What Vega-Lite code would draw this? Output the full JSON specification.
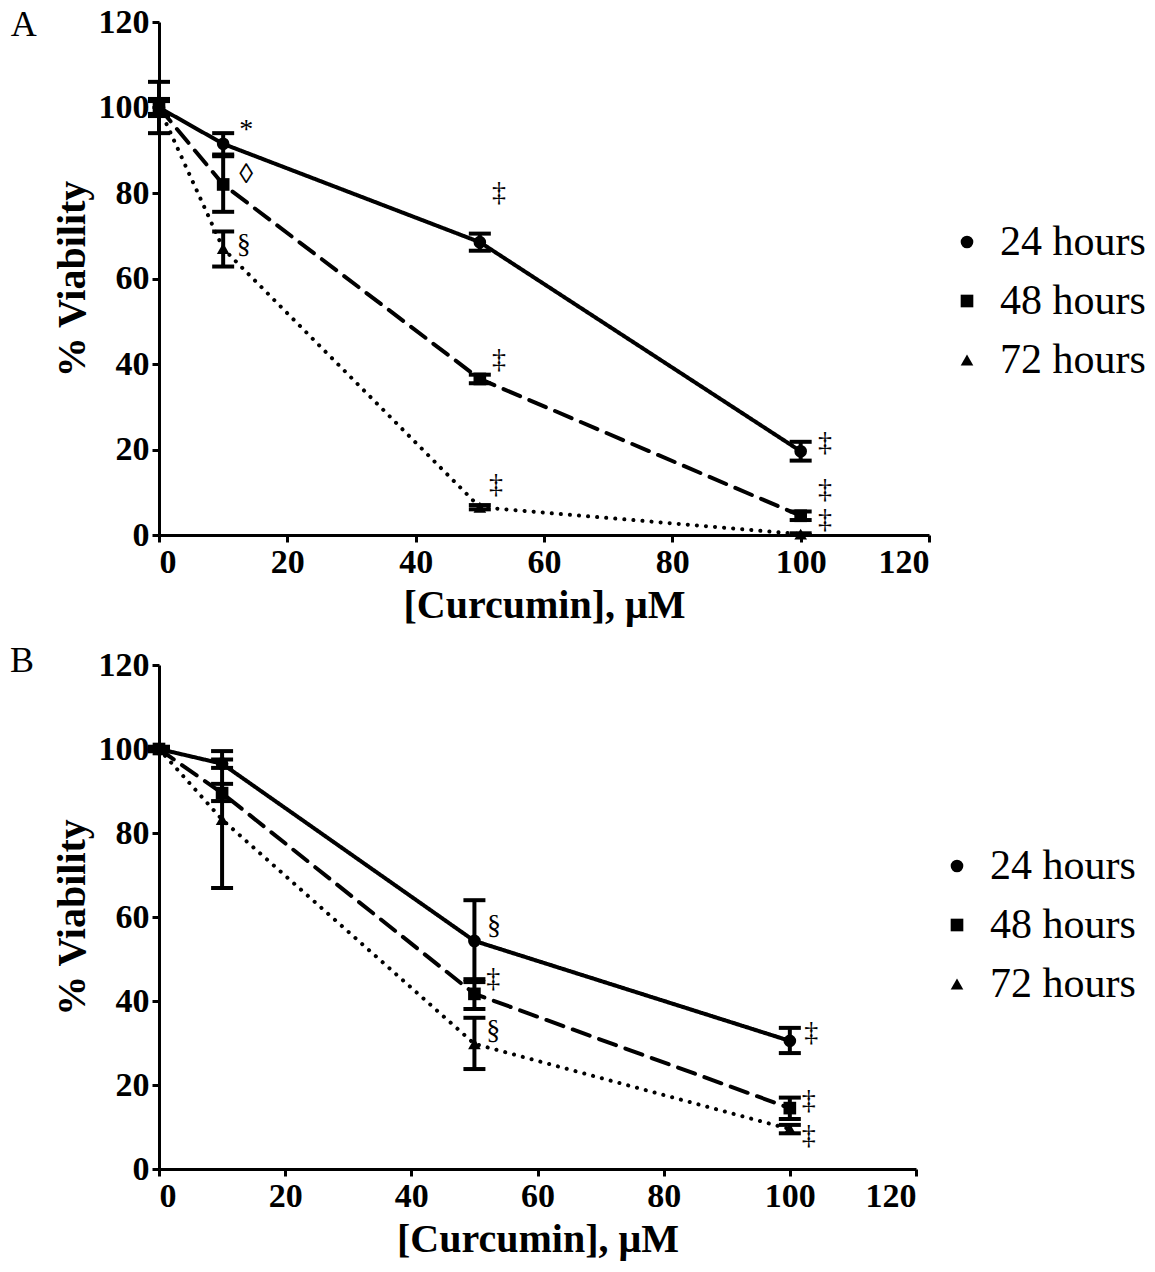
{
  "$schema": "https://vega.github.io/schema/vega-lite/v6.json",
  "background": "white",
  "padding": {"left": 10, "top": 5, "right": 5, "bottom": 2},
  "spacing": 17,
  "datasets": {
    "pts": [
      {"panel": "A", "series": "24 hours", "x": 0, "v": 100, "lo": 94, "hi": 106},
      {"panel": "A", "series": "24 hours", "x": 10, "v": 91.5, "lo": 89, "hi": 94},
      {"panel": "A", "series": "24 hours", "x": 50, "v": 68.5, "lo": 66.5, "hi": 70.5},
      {"panel": "A", "series": "24 hours", "x": 100, "v": 19.6, "lo": 17.4, "hi": 21.8},
      {"panel": "A", "series": "48 hours", "x": 0, "v": 100, "lo": 98, "hi": 102},
      {"panel": "A", "series": "48 hours", "x": 10, "v": 82, "lo": 75.6, "hi": 88.6},
      {"panel": "A", "series": "48 hours", "x": 50, "v": 36.5, "lo": 35.5, "hi": 37.5},
      {"panel": "A", "series": "48 hours", "x": 100, "v": 4.5, "lo": 3.5, "hi": 5.5},
      {"panel": "A", "series": "72 hours", "x": 0, "v": 100, "lo": 98.5, "hi": 101.5},
      {"panel": "A", "series": "72 hours", "x": 10, "v": 67, "lo": 62.8, "hi": 71},
      {"panel": "A", "series": "72 hours", "x": 50, "v": 6.5, "lo": 6, "hi": 7},
      {"panel": "A", "series": "72 hours", "x": 100, "v": 0.2, "lo": 0, "hi": 0.4},
      {"panel": "B", "series": "24 hours", "x": 0, "v": 100, "lo": 99.5, "hi": 100.5},
      {"panel": "B", "series": "24 hours", "x": 10, "v": 96.5, "lo": 95.5, "hi": 97.5},
      {"panel": "B", "series": "24 hours", "x": 50, "v": 54.3, "lo": 44.5, "hi": 64},
      {"panel": "B", "series": "24 hours", "x": 100, "v": 30.5, "lo": 27.6, "hi": 33.6},
      {"panel": "B", "series": "48 hours", "x": 0, "v": 100, "lo": 99.5, "hi": 100.5},
      {"panel": "B", "series": "48 hours", "x": 10, "v": 89.5, "lo": 87.6, "hi": 91.7},
      {"panel": "B", "series": "48 hours", "x": 50, "v": 41.7, "lo": 38.1, "hi": 45.2},
      {"panel": "B", "series": "48 hours", "x": 100, "v": 14.5, "lo": 11.9, "hi": 17},
      {"panel": "B", "series": "72 hours", "x": 0, "v": 100, "lo": 99.5, "hi": 100.5},
      {"panel": "B", "series": "72 hours", "x": 10, "v": 83.2, "lo": 66.9, "hi": 99.5},
      {"panel": "B", "series": "72 hours", "x": 50, "v": 29.8, "lo": 23.8, "hi": 36},
      {"panel": "B", "series": "72 hours", "x": 100, "v": 9.5, "lo": 8.5, "hi": 10.5}
    ],
    "notes": [
      {"panel": "A", "x": 13.6, "y": 94.7, "label": "*"},
      {"panel": "A", "x": 13.6, "y": 84.2, "label": "◊"},
      {"panel": "A", "x": 13.2, "y": 67.8, "label": "§"},
      {"panel": "A", "x": 53, "y": 80, "label": "‡"},
      {"panel": "A", "x": 53, "y": 41, "label": "‡"},
      {"panel": "A", "x": 52.5, "y": 11.7, "label": "‡"},
      {"panel": "A", "x": 103.8, "y": 21.5, "label": "‡"},
      {"panel": "A", "x": 103.8, "y": 10.5, "label": "‡"},
      {"panel": "A", "x": 103.8, "y": 3.5, "label": "‡"},
      {"panel": "B", "x": 53.1, "y": 57.9, "label": "§"},
      {"panel": "B", "x": 53, "y": 45.2, "label": "‡"},
      {"panel": "B", "x": 53, "y": 32.9, "label": "§"},
      {"panel": "B", "x": 103.4, "y": 32.4, "label": "‡"},
      {"panel": "B", "x": 103, "y": 16.2, "label": "‡"},
      {"panel": "B", "x": 103, "y": 7.9, "label": "‡"}
    ]
  },
  "vconcat": [
    {
      "width": 770,
      "height": 513,
      "data": {"name": "pts"},
      "transform": [{"filter": "datum.panel == 'A'"}],
      "layer": [
        {
          "mark": {"type": "line", "color": "black", "strokeWidth": 4, "strokeCap": "round"},
          "encoding": {
            "x": {"field": "x", "type": "quantitative", "scale": {"domain": [0, 120], "nice": false}, "axis": {"values": [0, 20, 40, 60, 80, 100, 120], "title": "[Curcumin], μM"}},
            "y": {"field": "v", "type": "quantitative", "scale": {"domain": [0, 120], "nice": false}, "axis": {"values": [0, 20, 40, 60, 80, 100, 120], "title": "% Viability"}},
            "strokeDash": {"field": "series", "type": "nominal", "scale": {"domain": ["24 hours", "48 hours", "72 hours"], "range": [[1, 0], [18, 10], [0.1, 9]]}, "legend": null}
          }
        },
        {
          "mark": {"type": "rule", "color": "black", "strokeWidth": 4},
          "encoding": {"x": {"field": "x", "type": "quantitative"}, "y": {"field": "lo", "type": "quantitative"}, "y2": {"field": "hi"}}
        },
        {
          "mark": {"type": "tick", "color": "black", "orient": "horizontal", "size": 22, "thickness": 4, "opacity": 1},
          "encoding": {"x": {"field": "x", "type": "quantitative"}, "y": {"field": "lo", "type": "quantitative"}}
        },
        {
          "mark": {"type": "tick", "color": "black", "orient": "horizontal", "size": 22, "thickness": 4, "opacity": 1},
          "encoding": {"x": {"field": "x", "type": "quantitative"}, "y": {"field": "hi", "type": "quantitative"}}
        },
        {
          "mark": {"type": "point", "filled": true, "color": "black", "size": 160, "opacity": 1},
          "encoding": {
            "x": {"field": "x", "type": "quantitative"},
            "y": {"field": "v", "type": "quantitative"},
            "shape": {"field": "series", "type": "nominal",
              "scale": {"domain": ["24 hours", "48 hours", "72 hours"], "range": ["circle", "square", "triangle-up"]},
              "legend": {"orient": "none", "legendX": 787, "legendY": 199, "title": null, "labelFont": "Liberation Serif", "labelFontSize": 42, "symbolSize": 160, "labelOffset": 12, "rowPadding": 17,
                "encode": {"symbols": {"update": {"size": {"value": 160}, "opacity": {"value": 1}, "fill": {"value": "black"}, "stroke": {"value": "black"}, "strokeWidth": {"value": 1}}}}}
            }
          }
        },
        {
          "data": {"name": "notes"},
          "transform": [{"filter": "datum.panel == 'A'"}],
          "mark": {"type": "text", "font": "Liberation Serif", "fontSize": 28, "color": "black", "align": "center", "baseline": "middle"},
          "encoding": {"x": {"field": "x", "type": "quantitative"}, "y": {"field": "y", "type": "quantitative"}, "text": {"field": "label"}}
        },
        {
          "data": {"values": [{}]},
          "mark": {"type": "text", "font": "Liberation Serif", "fontSize": 36, "color": "black", "align": "left", "baseline": "middle", "clip": false},
          "encoding": {"x": {"datum": -23.1}, "y": {"datum": 119.2}, "text": {"value": "A"}}
        }
      ],
      "resolve": {"scale": {"shape": "independent", "strokeDash": "independent"}, "legend": {"shape": "independent", "strokeDash": "independent"}}
    },
    {
      "width": 757,
      "height": 504,
      "data": {"name": "pts"},
      "transform": [{"filter": "datum.panel == 'B'"}],
      "layer": [
        {
          "mark": {"type": "line", "color": "black", "strokeWidth": 4, "strokeCap": "round"},
          "encoding": {
            "x": {"field": "x", "type": "quantitative", "scale": {"domain": [0, 120], "nice": false}, "axis": {"values": [0, 20, 40, 60, 80, 100, 120], "title": "[Curcumin], μM"}},
            "y": {"field": "v", "type": "quantitative", "scale": {"domain": [0, 120], "nice": false}, "axis": {"values": [0, 20, 40, 60, 80, 100, 120], "title": "% Viability"}},
            "strokeDash": {"field": "series", "type": "nominal", "scale": {"domain": ["24 hours", "48 hours", "72 hours"], "range": [[1, 0], [18, 10], [0.1, 9]]}, "legend": null}
          }
        },
        {
          "mark": {"type": "rule", "color": "black", "strokeWidth": 4},
          "encoding": {"x": {"field": "x", "type": "quantitative"}, "y": {"field": "lo", "type": "quantitative"}, "y2": {"field": "hi"}}
        },
        {
          "mark": {"type": "tick", "color": "black", "orient": "horizontal", "size": 22, "thickness": 4, "opacity": 1},
          "encoding": {"x": {"field": "x", "type": "quantitative"}, "y": {"field": "lo", "type": "quantitative"}}
        },
        {
          "mark": {"type": "tick", "color": "black", "orient": "horizontal", "size": 22, "thickness": 4, "opacity": 1},
          "encoding": {"x": {"field": "x", "type": "quantitative"}, "y": {"field": "hi", "type": "quantitative"}}
        },
        {
          "mark": {"type": "point", "filled": true, "color": "black", "size": 160, "opacity": 1},
          "encoding": {
            "x": {"field": "x", "type": "quantitative"},
            "y": {"field": "v", "type": "quantitative"},
            "shape": {"field": "series", "type": "nominal",
              "scale": {"domain": ["24 hours", "48 hours", "72 hours"], "range": ["circle", "square", "triangle-up"]},
              "legend": {"orient": "none", "legendX": 777, "legendY": 180, "title": null, "labelFont": "Liberation Serif", "labelFontSize": 42, "symbolSize": 160, "labelOffset": 12, "rowPadding": 17,
                "encode": {"symbols": {"update": {"size": {"value": 160}, "opacity": {"value": 1}, "fill": {"value": "black"}, "stroke": {"value": "black"}, "strokeWidth": {"value": 1}}}}}
            }
          }
        },
        {
          "data": {"name": "notes"},
          "transform": [{"filter": "datum.panel == 'B'"}],
          "mark": {"type": "text", "font": "Liberation Serif", "fontSize": 28, "color": "black", "align": "center", "baseline": "middle"},
          "encoding": {"x": {"field": "x", "type": "quantitative"}, "y": {"field": "y", "type": "quantitative"}, "text": {"field": "label"}}
        },
        {
          "data": {"values": [{}]},
          "mark": {"type": "text", "font": "Liberation Serif", "fontSize": 36, "color": "black", "align": "left", "baseline": "middle", "clip": false},
          "encoding": {"x": {"datum": -23.6}, "y": {"datum": 121}, "text": {"value": "B"}}
        }
      ],
      "resolve": {"scale": {"shape": "independent", "strokeDash": "independent"}, "legend": {"shape": "independent", "strokeDash": "independent"}}
    }
  ],
  "resolve": {"scale": {"shape": "independent", "strokeDash": "independent"}, "legend": {"shape": "independent", "strokeDash": "independent"}},
  "config": {
    "view": {"stroke": null},
    "axis": {
      "grid": false,
      "domainColor": "black",
      "domainWidth": 3,
      "tickColor": "black",
      "tickWidth": 3,
      "tickSize": 7,
      "labelFont": "Liberation Serif",
      "labelFontSize": 34,
      "labelFontWeight": "bold",
      "labelColor": "black",
      "labelPadding": 3,
      "titleFont": "Liberation Serif",
      "titleFontSize": 40,
      "titleFontWeight": "bold",
      "titleColor": "black",
      "titlePadding": 6
    },
    "legend": {
      "labelFont": "Liberation Serif",
      "labelFontSize": 42,
      "labelColor": "black",
      "symbolSize": 160,
      "labelOffset": 12,
      "rowPadding": 17,
      "labelLimit": 400
    }
  }
}
